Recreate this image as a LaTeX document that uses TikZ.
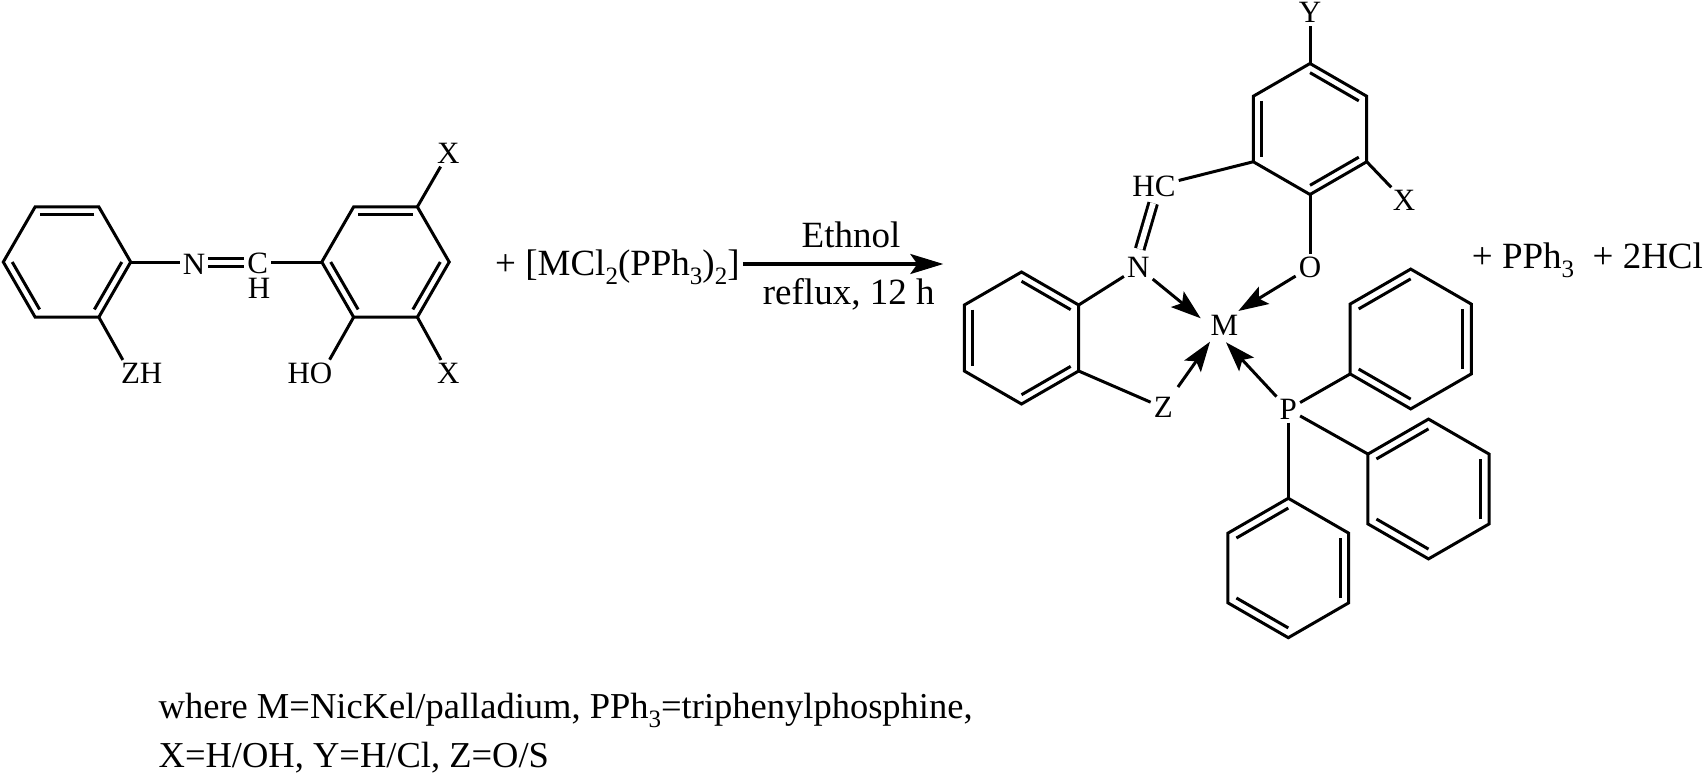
\documentclass[tikz,border=0pt]{standalone}
\usepackage{fontspec}
\setmainfont{Liberation Serif}
\usetikzlibrary{calc,arrows.meta}
\tikzset{
    bond/.style={line width=3pt, line join=miter},
    dblbond/.style={line width=3pt, double, double distance=5.6pt},
    coordarrow/.style={line width=3pt, -{Stealth[length=30pt, width=20pt, inset=6pt]}},
    rxnarrow/.style={line width=3.2pt, -{Stealth[length=33pt, width=20pt, inset=7pt]}},
    atom/.style={inner sep=3pt, font=\fontsize{31}{36}\selectfont},
    rxntext/.style={inner sep=0pt, anchor=base, font=\fontsize{37}{44}\selectfont},
    notetext/.style={inner sep=0pt, anchor=base west, font=\fontsize{36.5}{44}\selectfont},
}
\newcommand{\lowidx}[1]{\raisebox{-9pt}{\fontsize{25}{25}\selectfont #1}}
\newcommand{\benzring}[5]{%
    \coordinate (#1) at #2;
    \foreach \i in {0,...,5} {\coordinate (#1-\i) at ($(#1)+(#4+60*\i:#3)$);}
    \draw[bond] (#1-0) -- (#1-1) -- (#1-2) -- (#1-3) -- (#1-4) -- (#1-5) -- cycle;
    \foreach \i in #5 {
        \pgfmathtruncatemacro{\j}{mod(\i+1,6)}
        \draw[bond] ($(#1)!0.86!(#1-\i)$) -- ($(#1)!0.86!(#1-\j)$);
    }
}
\begin{document}
\begin{tikzpicture}[x=1pt, y=1pt]
    \useasboundingbox (0,0) rectangle (1703,-776);
    \benzring{ring1}{(67,-262)}{63.7}{0}{{1,3,5}}
    \benzring{ring2}{(385.5,-262)}{63.7}{0}{{1,3,5}}
    \benzring{ring3}{(1310,-129)}{65.5}{30}{{0,2,4}}
    \benzring{ring4}{(1021.5,-338)}{66}{30}{{0,2,4}}
    \benzring{ring5}{(1410.7,-339)}{69.9}{30}{{1,3,5}}
    \benzring{ring6}{(1428.5,-489)}{69.9}{30}{{1,3,5}}
    \benzring{ring7}{(1288.3,-568)}{69.7}{30}{{1,3,5}}

    \node[atom] (zhgroup) at (141.7,-373.3) {ZH};
    \node[atom] (iminen) at (194,-264) {N};
    \node[atom, inner ysep=0pt] (iminec) at (257.7,-263) {C};
    \node[atom, inner sep=0pt] (iminech) at (259,-288.3) {H};
    \node[atom] (hogroup) at (310,-373.3) {HO};
    \node[atom] (xtop) at (448.3,-153.3) {X};
    \node[atom] (xbottom) at (448.3,-373.3) {X};
    \draw[bond] (ring1-5) -- ([xshift=5pt]zhgroup.north west);
    \draw[bond] (ring1-0) -- (ring1-0 -| iminen.west);
    \draw[dblbond] ([yshift=1.5pt]iminen.east) -- ([yshift=0.5pt]iminec.west);
    \draw[bond] (ring2-3 -| iminec.east) -- (ring2-3);
    \draw[bond] (ring2-4) -- ([xshift=-6pt]hogroup.north east);
    \draw[bond] (ring2-1) -- (xtop);
    \draw[bond] (ring2-5) -- (xbottom);

    \node[rxntext, anchor=base west] (reagent) at (495,-275) {+ [MCl\lowidx{2}(PPh\lowidx{3})\lowidx{2}]};
    \coordinate (arrowend) at (943.3,-264);
    \draw[rxnarrow] ([xshift=3pt]reagent.east |- arrowend) -- (arrowend);
    \node[rxntext] (solvent) at (851,-247.7) {Ethnol};
    \node[rxntext] (conditions) at (848.7,-304.3) {reflux, 12 h};

    \node[atom] (ygroup) at (1310,-12.7) {Y};
    \node[atom] (xright) at (1404,-200.7) {X};
    \node[atom] (hcgroup) at (1154,-186.7) {HC};
    \node[atom] (oxygen) at (1310,-267.3) {O};
    \node[atom] (ncomplex) at (1138.3,-267.3) {N};
    \node[atom] (metal) at (1224.3,-325) {M};
    \node[atom] (zgroup) at (1163.3,-407.7) {Z};
    \node[atom] (phos) at (1288.3,-409.3) {P};
    \draw[bond] (ring3-1) -- (ygroup);
    \draw[bond] (ring3-5) -- (xright);
    \draw[bond] (ring3-3) -- (hcgroup);
    \draw[bond] (ring3-4) -- (oxygen);
    \draw[dblbond, shorten <=3pt, shorten >=5pt] (hcgroup.south) -- (ncomplex.north);
    \draw[bond] (ring4-0) -- (ncomplex);
    \draw[bond] (ring4-5) -- (zgroup);
    \draw[bond] (phos) -- (ring5-3);
    \draw[bond] (phos) -- (ring6-2);
    \draw[bond] (phos) -- (ring7-1);
    \draw[coordarrow] (ncomplex) -- ([shift={(-23.6,6.7)}]metal.center);
    \draw[coordarrow] (oxygen) -- ([shift={(14,14)}]metal.center);
    \draw[coordarrow, shorten <=9pt] (zgroup) -- ([shift={(-14.3,-16.7)}]metal.center);
    \draw[coordarrow] (phos) -- ([shift={(1.7,-17.3)}]metal.center);

    \node[rxntext, anchor=base west] (byproducts) at (1471.7,-268) {+ PPh\lowidx{3} \ + 2HCl};

    \node[notetext] (noteone) at (158.5,-718.3) {where M=NicKel/palladium, PPh\lowidx{3}=triphenylphosphine,};
    \node[notetext] (notetwo) at (158.5,-767.7) {X=H/OH, Y=H/Cl, Z=O/S};
\end{tikzpicture}
\end{document}
